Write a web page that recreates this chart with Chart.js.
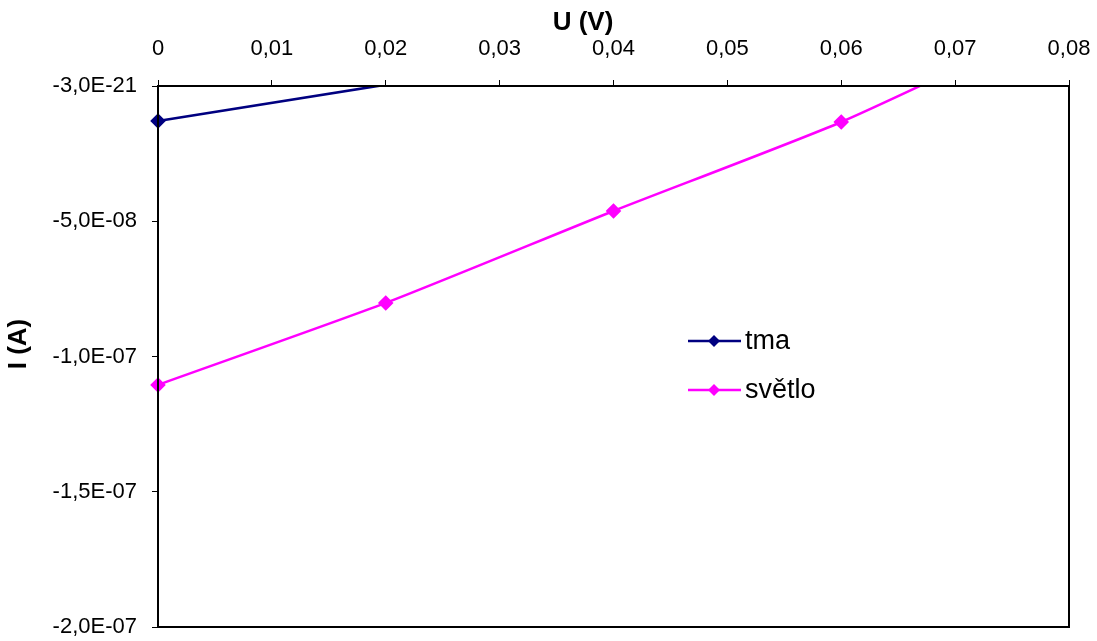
<!DOCTYPE html>
<html>
<head>
<meta charset="utf-8">
<script src="https://cdn.jsdelivr.net/npm/chart.js@4.4.1/dist/chart.umd.min.js"></script>
<style>
  html, body { margin: 0; padding: 0; background: #fff; }
  #wrap { width: 1097px; height: 641px; }
</style>
</head>
<body>
<div id="wrap"><canvas id="ivChart" width="1097" height="641"></canvas></div>
<script>
// napeti U (V) a proud I (A)
var tmaU = [0, 0.02];
var tmaI = [-1.29e-8, 5e-10];
var svetloU = [0, 0.02, 0.04, 0.06, 0.08];
var svetloI = [-1.105e-7, -8.02e-8, -4.62e-8, -1.33e-8, 2.6e-8];

var xMin = 0, xMax = 0.08, xStep = 0.01;
var yTicks = [-2e-7, -1.5e-7, -1e-7, -5e-8, -3e-21];

var FONT = '"Liberation Sans", Arial, sans-serif';

function fmtExp(v) {
    var s = v.toExponential(1).split('e');
    var mant = s[0].replace('.', ',');
    var ex = parseInt(s[1], 10);
    var sign = ex < 0 ? '-' : '+';
    var d = Math.abs(ex);
    return mant + 'E' + sign + (d < 10 ? '0' + d : d);
}

function pts(xs, ys) {
    return xs.map(function (x, i) { return {x: x, y: ys[i]}; });
}

var yMaxVal = yTicks[yTicks.length - 1];
function radiusIn(ctx) {
    return (ctx.raw && ctx.raw.y > yMaxVal) ? 0 : 6;
}

// ramecek kolem plochy grafu, nadpisy os a legenda uvnitr
var frame = {
    id: 'frame',
    afterDatasetsDraw: function (chart) {
        var a = chart.chartArea, c = chart.ctx;
        c.save();
        c.strokeStyle = '#000';
        c.lineWidth = 2;
        c.strokeRect(a.left, a.top, a.right - a.left, a.bottom - a.top);

        c.fillStyle = '#000';
        c.font = 'bold 26px ' + FONT;
        c.textAlign = 'center';
        c.textBaseline = 'middle';
        c.fillText('U (V)', 583, 23);

        c.save();
        c.translate(19, 344);
        c.rotate(-Math.PI / 2);
        c.fillText('I (A)', 0, 0);
        c.restore();

        var rows = [341, 390];
        chart.data.datasets.forEach(function (ds, i) {
            var y = rows[i];
            c.strokeStyle = ds.borderColor;
            c.lineWidth = 2.5;
            c.beginPath();
            c.moveTo(688, y);
            c.lineTo(741, y);
            c.stroke();
            c.fillStyle = ds.borderColor;
            c.beginPath();
            c.moveTo(714, y - 6); c.lineTo(720, y); c.lineTo(714, y + 6); c.lineTo(708, y);
            c.closePath();
            c.fill();
            c.fillStyle = '#000';
            c.font = '27px ' + FONT;
            c.textBaseline = 'middle';
            c.textAlign = 'left';
            c.fillText(ds.label, 745, y + 1);
        });
        c.restore();
    }
};

var clipArea = { left: 8, top: 1, right: 8, bottom: 8 };

var ctx = document.getElementById('ivChart').getContext('2d');
new Chart(ctx, {
    type: 'scatter',
    data: {
        datasets: [{
            label: 'tma',
            data: pts(tmaU, tmaI),
            showLine: true,
            borderColor: '#000080',
            backgroundColor: '#000080',
            borderWidth: 2.5,
            pointStyle: 'rectRot',
            pointRadius: radiusIn,
            pointHoverRadius: radiusIn,
            tension: 0,
            clip: clipArea
        }, {
            label: 'světlo',
            data: pts(svetloU, svetloI),
            showLine: true,
            borderColor: '#FF00FF',
            backgroundColor: '#FF00FF',
            borderWidth: 2.5,
            pointStyle: 'rectRot',
            pointRadius: radiusIn,
            pointHoverRadius: radiusIn,
            tension: 0.2,
            clip: clipArea
        }]
    },
    options: {
        responsive: false,
        animation: false,
        layout: { padding: { left: 0, right: 28, top: 0, bottom: 14 } },
        plugins: {
            legend: { display: false },
            tooltip: { enabled: false }
        },
        scales: {
            x: {
                type: 'linear',
                position: 'top',
                min: xMin,
                max: xMax,
                afterFit: function (s) {
                    s.height = 86;
                    s.paddingLeft = 0;
                    s.paddingRight = 0;
                },
                ticks: {
                    stepSize: xStep,
                    padding: 18,
                    color: '#000',
                    font: { family: FONT, size: 22 },
                    maxRotation: 0,
                    callback: function (v) {
                        return v === 0 ? '0' : v.toFixed(2).replace('.', ',');
                    }
                },
                grid: { drawOnChartArea: false, color: '#000', tickLength: 6, lineWidth: 1 },
                border: { display: false },
                title: { display: false }
            },
            y: {
                type: 'linear',
                min: yTicks[0],
                max: yMaxVal,
                afterFit: function (s) {
                    s.width = 158;
                    s.paddingTop = 0;
                    s.paddingBottom = 0;
                },
                afterBuildTicks: function (s) {
                    s.ticks = yTicks.map(function (v) { return {value: v}; });
                },
                ticks: {
                    padding: 15,
                    color: '#000',
                    font: { family: FONT, size: 22 },
                    callback: function (v) { return fmtExp(v); }
                },
                grid: { drawOnChartArea: false, color: '#000', tickLength: 6, lineWidth: 1 },
                border: { display: false },
                title: { display: false }
            }
        }
    },
    plugins: [frame]
});
</script>
</body>
</html>
